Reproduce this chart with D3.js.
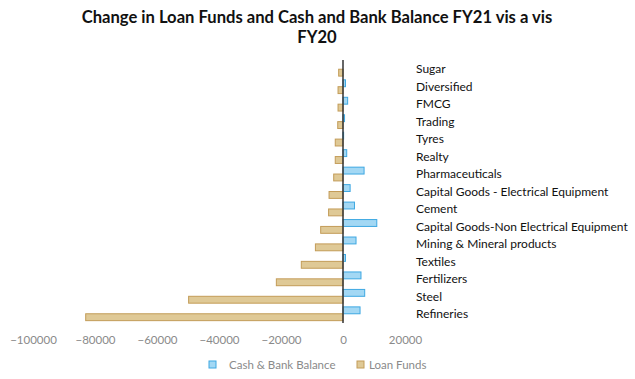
<!DOCTYPE html>
<html>
<head>
<meta charset="utf-8">
<script src="https://cdn.jsdelivr.net/npm/d3@7"></script>
<style>
  body { margin: 0; background: #fff; }
  svg { display: block; }
</style>
</head>
<body>
<div id="chart"></div>
<script>
// data (values in crores, approx.)
let sectors = ["Sugar", "Diversified", "FMCG", "Trading", "Tyres", "Realty", "Pharmaceuticals",
  "Capital Goods - Electrical Equipment", "Cement", "Capital Goods-Non Electrical Equipment",
  "Mining & Mineral products", "Textiles", "Fertilizers", "Steel", "Refineries"];
let cashBank = [0, 800, 1500, 500, 200, 1200, 6800, 2300, 3700, 10900, 4200, 800, 5800, 7000, 5500];
let loanFunds = [-1400, -1600, -1600, -1700, -2500, -2500, -3000, -4500, -4650, -7200, -8900, -13450, -21500, -49800, -83000];
let xTicks = [-100000, -80000, -60000, -40000, -20000, 0, 20000];
let seriesNames = ["Cash & Bank Balance", "Loan Funds"];

let width = 635, height = 379;

let svg = d3.select("#chart").append("svg")
  .attr("width", width)
  .attr("height", height);

// title
let titleLines = ["Change in Loan Funds and Cash and Bank Balance FY21 vis a vis", "FY20"];
svg.selectAll("text.title")
  .data(titleLines)
  .enter()
  .append("text")
  .attr("class", "title")
  .attr("x", 317)
  .attr("y", (d, i) => 23 + i * 20)
  .attr("text-anchor", "middle")
  .style("font-family", "Lato, 'Open Sans', sans-serif")
  .style("font-weight", "bold")
  .style("font-size", "16.6px")
  .style("fill", "#111")
  .text(d => d);

let x = d3.scaleLinear()
  .domain([-100000, 20000])
  .range([33, 405]);

let y = d3.scaleBand()
  .domain(sectors)
  .range([60.5, 322.5]);

let ySub = d3.scaleBand()
  .domain(["cash", "loan"])
  .range([0, y.bandwidth()])
  .paddingOuter(0.27)
  .paddingInner(0);

// bars
let groups = svg.selectAll("g.sector")
  .data(sectors)
  .enter()
  .append("g")
  .attr("class", "sector")
  .attr("transform", d => `translate(0,${y(d)})`);

groups.append("rect")
  .attr("x", (d, i) => x(Math.min(0, cashBank[i])))
  .attr("y", ySub("cash"))
  .attr("width", (d, i) => Math.abs(x(cashBank[i]) - x(0)))
  .attr("height", ySub.bandwidth())
  .style("fill", "#a3d8f4")
  .style("stroke", "#3ea8e2")
  .style("stroke-width", 1);

groups.append("rect")
  .attr("x", (d, i) => x(Math.min(0, loanFunds[i])))
  .attr("y", ySub("loan"))
  .attr("width", (d, i) => Math.abs(x(loanFunds[i]) - x(0)))
  .attr("height", ySub.bandwidth())
  .style("fill", "#dfc996")
  .style("stroke", "#c39c58")
  .style("stroke-width", 1);

// category labels
svg.selectAll("text.cat")
  .data(sectors)
  .enter()
  .append("text")
  .attr("class", "cat")
  .attr("x", 416)
  .attr("y", d => y(d) + y.bandwidth() / 2)
  .attr("dy", "0.35em")
  .style("font-family", "Lato, 'Open Sans', sans-serif")
  .style("font-size", "12px")
  .style("fill", "#111")
  .text(d => d);

// zero line
svg.append("line")
  .attr("x1", x(0)).attr("x2", x(0))
  .attr("y1", 60).attr("y2", 323)
  .style("stroke", "#333")
  .style("stroke-width", 1.5);

// x tick labels
let xAxis = svg.append("g")
  .attr("transform", "translate(0,333)")
  .call(d3.axisBottom(x).tickValues(xTicks).tickSize(0).tickFormat(d3.format("d")));
xAxis.select(".domain").remove();
xAxis.selectAll("text")
  .style("font-family", "Lato, 'Open Sans', sans-serif")
  .style("font-size", "11.5px")
  .style("fill", "#8a8a8a");

// legend
let legend = svg.append("g").attr("transform", "translate(0,365)");
let legendItems = [
  { name: seriesNames[0], fill: "#a3d8f4", stroke: "#3ea8e2", box: 209, text: 229 },
  { name: seriesNames[1], fill: "#dfc996", stroke: "#c39c58", box: 357, text: 369 }
];
legendItems.forEach(d => {
  legend.append("rect")
    .attr("x", d.box).attr("y", -4)
    .attr("width", 7).attr("height", 7)
    .style("fill", d.fill)
    .style("stroke", d.stroke);
  legend.append("text")
    .attr("x", d.text).attr("y", 0)
    .attr("dy", "0.35em")
    .style("font-family", "Lato, 'Open Sans', sans-serif")
    .style("font-size", "11.5px")
    .style("fill", "#8a8a8a")
    .text(d.name);
});
</script>
</body>
</html>
